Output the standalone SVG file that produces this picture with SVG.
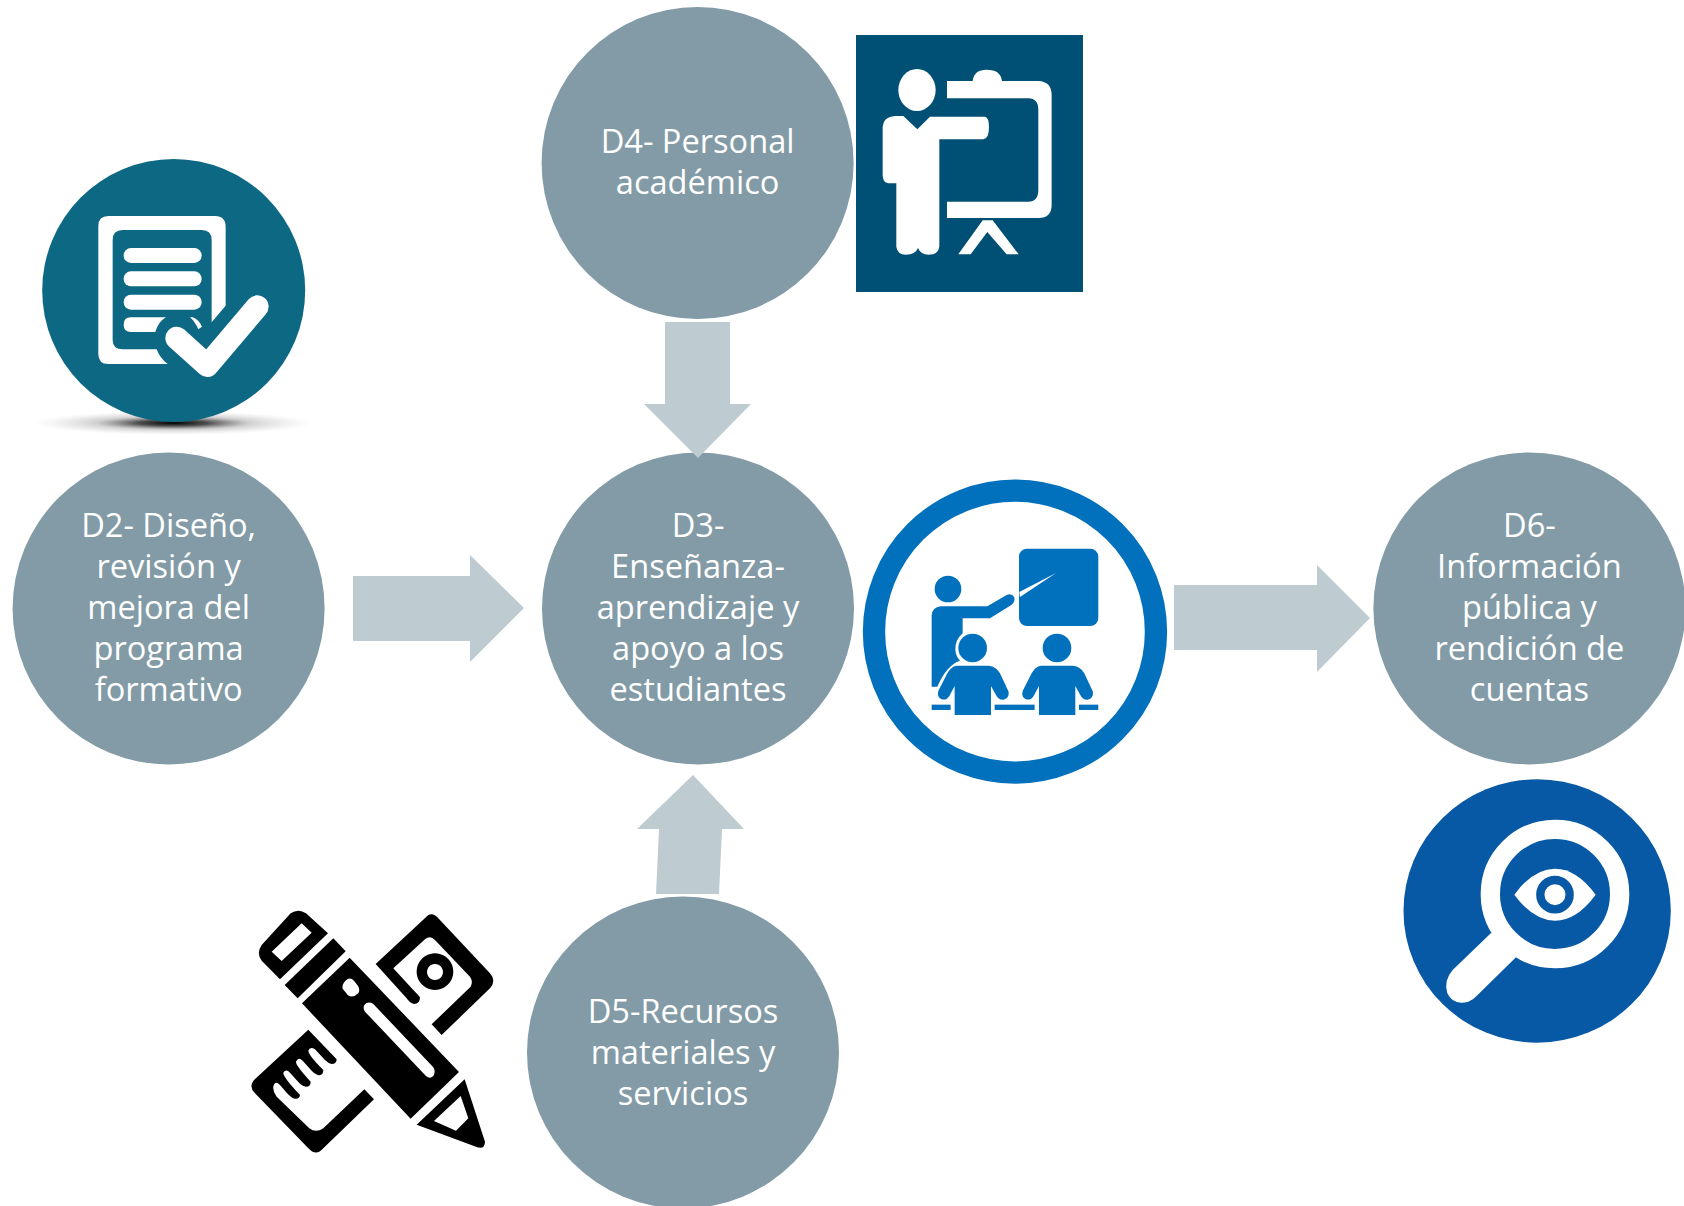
<svg xmlns="http://www.w3.org/2000/svg" width="1684" height="1206" viewBox="0 0 1684 1206">
<style>
.node{fill:#829ba6}
.lbl{font-family:"Open Sans","Noto Sans",sans-serif;font-size:32.6px;fill:#fff;text-anchor:middle}
.arrow{fill:#becbd0}
.w{fill:#fff}
</style>
<defs>
<radialGradient id="shadow"><stop offset="0" stop-color="#000"/><stop offset=".25" stop-color="#222" stop-opacity=".8"/><stop offset=".55" stop-color="#666" stop-opacity=".3"/><stop offset="1" stop-color="#aaa" stop-opacity="0"/></radialGradient>
</defs>
<rect width="1684" height="1206" fill="#fff"/>

<g id="icon-d2">
<ellipse cx="173" cy="423" rx="140" ry="12" fill="url(#shadow)"/>
<circle cx="173.7" cy="290.5" r="131.5" fill="#0d6884"/>
<g transform="translate(0 130) scale(.3333)">
<path class="w" d="M325 258H645Q677 258 677 290V527L635 577V330Q635 300 605 300H368Q338 300 338 330V630Q338 658 368 658H470Q480 685 503 702H325Q295 702 295 672V288Q295 258 325 258Z"/>
<rect class="w" x="371" y="354" width="234" height="45" rx="22"/>
<rect class="w" x="371" y="424" width="234" height="45" rx="22"/>
<rect class="w" x="371" y="494" width="234" height="45" rx="22"/>
<path class="w" d="M393 562H498Q475 575 466 606H393Q371 606 371 584T393 562Z"/>
<path class="w" d="M570 562H578Q598 570 606 590L595 598Q585 575 570 562Z"/>
<path d="M530 624L622 707L772 530" fill="none" stroke="#fff" stroke-width="68" stroke-linecap="round" stroke-linejoin="round"/>
</g>
</g>

<g id="icon-d4">
<g transform="translate(840 20) scale(.3333)">
<rect x="48" y="45" width="681" height="771" fill="#004f74"/>
<ellipse class="w" cx="231" cy="210" rx="56" ry="63"/>
<path class="w" d="M165 288H190L232 328L270 290H435Q447 292 447 322Q447 356 430 358H298V680Q295 704 266 704Q242 704 234 684Q226 704 198 704Q172 704 169 680V490H145Q128 488 128 465V320Q130 290 165 288Z"/>
<path class="w" d="M321 183H398Q402 149 440 149Q482 149 486 183H595Q635 185 635 225V555Q635 594 595 594H321V545H565Q595 545 595 510V270Q595 235 565 235H321Z"/>
<path class="w" d="M428 601H458L536 703H500L442 636L392 703H355Z"/>
</g>
</g>

<g id="icon-d3">
<g transform="translate(850 470) scale(.3333)">
<circle cx="495" cy="485" r="423" fill="none" stroke="#0271bd" stroke-width="67"/>
<g fill="#0271bd">
<rect x="507" y="236" width="238" height="232" rx="24"/>
<circle cx="294" cy="357" r="40"/>
<path d="M508 366L618 309L510 381Z" fill="#fff"/>
<path d="M272 409H412L470 375Q485 368 493 382Q497 396 484 405L420 445H338V490Q315 510 316 540Q318 560 330 572Q290 585 262 650H245V436Q247 412 272 409Z"/>
<circle cx="368" cy="534" r="43"/>
<circle cx="621" cy="534" r="43"/>
<path d="M320 587H416Q440 590 450 610L476 665Q478 685 460 689Q445 690 438 675L423 648V735H314V648L298 678Q290 692 275 688Q260 682 265 663L292 610Q302 590 320 587Z"/>
<path d="M573 587H669Q693 590 703 610L729 665Q731 685 713 689Q698 690 691 675L676 648V735H567V648L551 678Q543 692 528 688Q513 682 518 663L545 610Q555 590 573 587Z"/>
<rect x="245" y="704" width="57" height="16"/>
<rect x="434" y="704" width="120" height="16"/>
<rect x="687" y="704" width="58" height="16"/>
</g>
</g>
</g>

<g id="icon-d6">
<g transform="translate(1390 770) scale(.3333)">
<ellipse cx="441.5" cy="423" rx="401" ry="395" fill="#0759a5"/>
<path class="w" d="M304 488L188 600Q160 632 172 670Q190 708 235 695Q252 688 262 676L378 562Z"/>
<circle cx="495" cy="372" r="194" fill="none" stroke="#fff" stroke-width="58"/>
<path class="w" d="M373 374Q430 296 495 296Q560 296 617 374Q560 452 495 452Q430 452 373 374Z"/>
<circle cx="495" cy="374" r="44" fill="none" stroke="#0759a5" stroke-width="25"/>
</g>
</g>

<g id="icon-d5">
<g transform="translate(230 890) scale(.3333)">
<path fill-rule="evenodd" d="M182 70Q205 55 228 70L294 130L150 268L95 212Q78 190 95 165ZM215 100L125 185L155 213L245 128Z"/>
<path d="M310 145L347 184L203 325L164 285Z"/>
<path fill-rule="evenodd" d="M359 203L687 546L542 686L216 340ZM352 268Q335 280 338 296L354 316Q368 326 385 310Q392 296 382 285L372 272Q362 262 352 268ZM403 345Q398 355 405 365L588 558Q600 568 610 558Q618 546 610 532L430 342Q414 332 403 345Z"/>
<path fill-rule="evenodd" d="M704 568L765 755Q765 778 742 772L560 704ZM692 618L612 693L678 722L715 685Z"/>
<path fill-rule="evenodd" d="M595 75Q610 68 625 85L780 250Q800 272 780 295L635 435L605 403L722 290Q730 275 720 260L615 150Q600 135 585 148L490 235L550 300Q562 312 570 322Q570 342 552 342Q540 340 530 325L437 222ZM615 190A55 55 0 1 1 614.9 190ZM615 222A24 24 0 1 0 615.1 222Z"/>
<path d="M235 419L320 508Q320 522 305 522Q295 520 285 510L255 478Q240 468 235 482Q235 495 280 540Q280 555 268 556Q258 555 245 542L218 512Q205 500 198 515Q196 525 242 575Q242 590 228 590Q218 590 205 576L180 548Q168 535 160 548Q158 560 210 615Q208 628 195 626Q185 625 170 608L150 585Q135 570 130 590Q128 605 140 620L238 715Q258 730 280 715L403 598L432 628L280 775Q258 800 235 775L75 610Q55 590 72 570Z"/>
</g>
</g>

<g id="node-d4"><circle class="node" cx="697.6" cy="163" r="156"/>
<text class="lbl" x="697.6" y="153">D4- Personal</text><text class="lbl" x="697.6" y="194">académico</text></g>

<g id="node-d2"><circle class="node" cx="168.6" cy="608.4" r="156"/>
<text class="lbl" x="168.6" y="537">D2- Diseño,</text><text class="lbl" x="168.6" y="578">revisión y</text><text class="lbl" x="168.6" y="619">mejora del</text><text class="lbl" x="168.6" y="660">programa</text><text class="lbl" x="168.6" y="701">formativo</text></g>

<g id="node-d3"><circle class="node" cx="698" cy="608.4" r="156"/>
<text class="lbl" x="698" y="537">D3-</text><text class="lbl" x="698" y="578">Enseñanza-</text><text class="lbl" x="698" y="619">aprendizaje y</text><text class="lbl" x="698" y="660">apoyo a los</text><text class="lbl" x="698" y="701">estudiantes</text></g>

<g id="node-d6"><circle class="node" cx="1529.4" cy="608.4" r="156"/>
<text class="lbl" x="1529.4" y="537">D6-</text><text class="lbl" x="1529.4" y="578">Información</text><text class="lbl" x="1529.4" y="619">pública y</text><text class="lbl" x="1529.4" y="660">rendición de</text><text class="lbl" x="1529.4" y="701">cuentas</text></g>

<g id="node-d5"><circle class="node" cx="683" cy="1052.5" r="156"/>
<text class="lbl" x="683" y="1023">D5-Recursos</text><text class="lbl" x="683" y="1064">materiales y</text><text class="lbl" x="683" y="1105">servicios</text></g>

<g id="connectors" class="arrow">
<path d="M665 322H730V404H751L698 458L644 404H665Z"/>
<path d="M353 576H470V555L524 608L470 662V641H353Z"/>
<path d="M1174 585H1317V565L1370 618L1317 672V650H1174Z"/>
<path d="M656 894L659 829H637L693 775L744 829H722L719 894Z"/>
</g>
</svg>
